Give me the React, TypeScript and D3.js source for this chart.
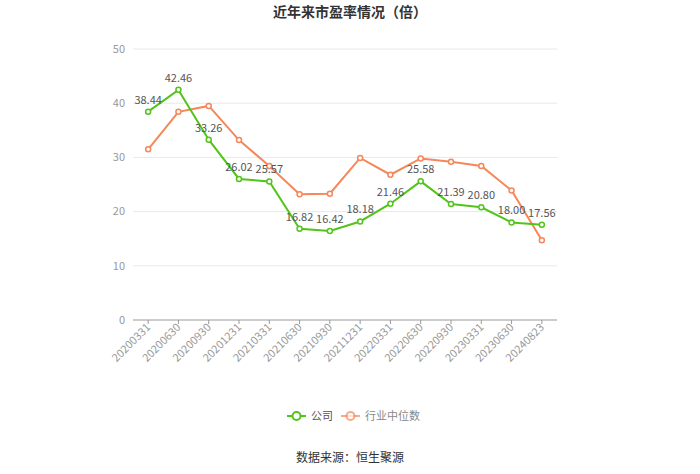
import React from "react";
import * as d3 from "d3";

const categories = ["20200331","20200630","20200930","20201231","20210331","20210630","20210930","20211231","20220331","20220630","20220930","20230331","20230630","20240823"];
const companyValues = [38.44, 42.46, 33.26, 26.02, 25.57, 16.82, 16.42, 18.18, 21.46, 25.58, 21.39, 20.80, 18.00, 17.56];
const industryValues = [31.5, 38.4, 39.5, 33.2, 28.4, 23.2, 23.3, 29.9, 26.8, 29.8, 29.2, 28.4, 23.9, 14.7];
const yTicks = [0, 10, 20, 30, 40, 50];

const W = 700, H = 474;
const left = 133, right = 557, top = 49, bottom = 320;
const green = "#52c41a";
const orange = "#f5875a";
const font = "'Microsoft YaHei', 'Noto Sans CJK SC', sans-serif";

export default function App() {
  const x = d3.scaleBand<string>().domain(categories).range([left, right]);
  const cx = (c: string) => (x(c) as number) + x.bandwidth() / 2;
  const y = d3.scaleLinear().domain([0, 50]).range([bottom, top]);
  const line = d3.line<number>().x((_, i) => cx(categories[i])).y((d) => y(d));

  return (
    <svg width={W} height={H} style={{ position: "absolute", left: 0, top: 0, fontFamily: font }}>
      <rect width={W} height={H} fill="#fff" />
      <text x={350} y={17} textAnchor="middle" fontSize={14} fontWeight="bold" fill="#333">近年来市盈率情况（倍）</text>
      {yTicks.map((t) => (
        <g key={t}>
          {t > 0 && <line x1={left} x2={right} y1={y(t)} y2={y(t)} stroke="#e8e8e8" />}
          <text x={125} y={y(t)} dy="0.35em" textAnchor="end" fontSize={11} fill="#999">{t}</text>
        </g>
      ))}
      <line x1={left} x2={right} y1={bottom} y2={bottom} stroke="#999" />
      {categories.map((c) => (
        <g key={c}>
          <line x1={cx(c)} x2={cx(c)} y1={bottom} y2={bottom + 4} stroke="#999" />
          <text transform={`translate(${cx(c) + 3},${bottom + 8}) rotate(-45)`} textAnchor="end" fontSize={11} fill="#999">{c}</text>
        </g>
      ))}
      <path d={line(industryValues) || ""} fill="none" stroke={orange} strokeWidth={2} />
      <path d={line(companyValues) || ""} fill="none" stroke={green} strokeWidth={2} />
      {industryValues.map((v, i) => (
        <circle key={"o" + i} cx={cx(categories[i])} cy={y(v)} r={2.5} fill="#fff" stroke={orange} strokeWidth={1.5} />
      ))}
      {companyValues.map((v, i) => (
        <circle key={"g" + i} cx={cx(categories[i])} cy={y(v)} r={2.5} fill="#fff" stroke={green} strokeWidth={1.5} />
      ))}
      {companyValues.map((v, i) => (
        <text key={"l" + i} x={cx(categories[i])} y={y(v) - 8} textAnchor="middle" fontSize={11} fill="#555">{v.toFixed(2)}</text>
      ))}
      <g>
        <line x1={287} x2={306} y1={416} y2={416} stroke={green} strokeWidth={2} />
        <circle cx={296.5} cy={416} r={4} fill="#fff" stroke={green} strokeWidth={2} />
        <text x={311} y={416} dy="0.35em" fontSize={11} fill="#555">公司</text>
        <line x1={341} x2={360} y1={416} y2={416} stroke={orange} strokeWidth={2} opacity={0.7} />
        <circle cx={350.5} cy={416} r={4} fill="#fff" stroke={orange} strokeWidth={2} opacity={0.7} />
        <text x={365} y={416} dy="0.35em" fontSize={11} fill="#888">行业中位数</text>
      </g>
      <text x={350} y={458} dy="0.35em" textAnchor="middle" fontSize={12} fill="#333">数据来源：恒生聚源</text>
    </svg>
  );
}
